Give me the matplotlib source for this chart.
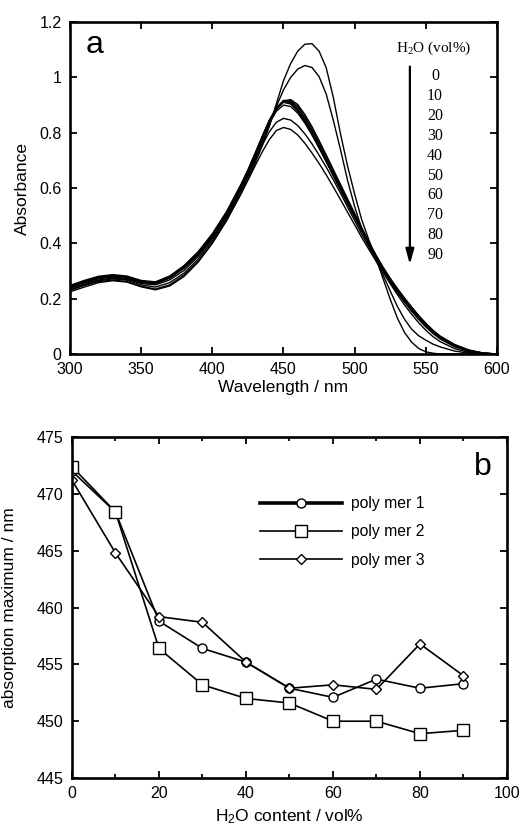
import numpy as np
import matplotlib
matplotlib.use("Agg")
import matplotlib.pyplot as plt
from matplotlib.ticker import MultipleLocator, FuncFormatter

plt.rcParams['font.family'] = ['Liberation Sans', 'DejaVu Sans']
plt.rcParams['mathtext.default'] = 'regular'

# ---- panel a: absorption spectra at different water contents ----
wl = [300, 310, 320, 330, 340, 350, 360, 370, 380, 390, 400, 410, 420,
      425, 430, 435, 440, 445, 450, 455, 460, 465, 470, 475, 480, 485, 490, 495,
      500, 505, 510, 515, 520, 525, 530, 535, 540, 545, 550, 555, 560,
      570, 580, 590, 600]

abs_00 = [.225, .242, .258, .265, .260, .243, .232, .246, .280, .332, .400, .482, .578,
          .632, .690, .752, .822, .905, .988, 1.050, 1.095, 1.120, 1.122, 1.095, 1.035, .928, .797, .680,
          .578, .485, .412, .345, .272, .198, .130, .078, .043, .020, .008, .003, .000,
          0, 0, 0, 0]
abs_10 = [.232, .250, .265, .272, .267, .250, .242, .258, .292, .343, .410, .490, .588,
          .642, .700, .762, .828, .895, .955, 1.000, 1.030, 1.043, 1.036, 1.003, .940, .845, .740, .628,
          .533, .452, .392, .340, .285, .228, .172, .126, .090, .066, .050, .036, .026,
          .011, .003, 0, 0]
abs_20 = [.236, .254, .268, .274, .270, .255, .250, .268, .302, .352, .417, .497, .596,
          .650, .710, .772, .833, .883, .913, .920, .902, .866, .822, .772, .720, .667, .614, .561,
          .509, .457, .405, .355, .307, .264, .226, .191, .158, .127, .099, .075, .055,
          .027, .010, .002, 0]
abs_30 = [.242, .260, .275, .281, .276, .260, .256, .276, .313, .363, .428, .508, .606,
          .660, .720, .783, .843, .890, .917, .917, .895, .858, .813, .764, .712, .660, .607, .555,
          .503, .452, .401, .353, .307, .266, .230, .196, .164, .133, .105, .080, .060,
          .031, .013, .003, 0]
abs_40 = [.240, .258, .272, .278, .273, .258, .254, .274, .310, .360, .425, .505, .603,
          .657, .717, .780, .840, .888, .915, .912, .888, .850, .805, .756, .704, .652, .600, .548,
          .497, .447, .397, .350, .305, .264, .228, .194, .162, .130, .102, .078, .058,
          .030, .012, .003, 0]
abs_50 = [.245, .263, .278, .284, .279, .263, .258, .279, .316, .367, .432, .512, .610,
          .664, .724, .786, .845, .890, .914, .908, .882, .843, .797, .748, .697, .645, .594, .543,
          .493, .444, .395, .349, .305, .265, .230, .197, .165, .134, .106, .081, .061,
          .032, .013, .003, 0]
abs_60 = [.248, .266, .281, .287, .282, .266, .261, .282, .319, .370, .435, .515, .612,
          .666, .725, .786, .843, .886, .910, .904, .878, .840, .795, .746, .696, .645, .595, .545,
          .496, .447, .399, .353, .310, .270, .234, .201, .169, .138, .110, .085, .064,
          .034, .014, .004, 0]
abs_70 = [.244, .262, .277, .283, .278, .262, .257, .277, .314, .365, .430, .510, .607,
          .660, .719, .779, .835, .878, .900, .895, .871, .835, .792, .745, .696, .646, .597, .548,
          .500, .452, .404, .358, .314, .274, .237, .203, .170, .139, .111, .086, .065,
          .035, .015, .004, 0]
abs_80 = [.245, .262, .276, .282, .277, .262, .258, .278, .312, .358, .422, .502, .598,
          .650, .703, .755, .803, .838, .852, .846, .826, .796, .760, .719, .676, .630, .582, .532,
          .482, .433, .387, .342, .300, .260, .223, .188, .155, .125, .098, .075, .056,
          .028, .010, .002, 0]
abs_90 = [.230, .248, .262, .268, .262, .245, .235, .250, .285, .335, .402, .484, .578,
          .628, .680, .730, .775, .808, .819, .812, .792, .762, .727, .689, .648, .604, .559, .513,
          .467, .421, .378, .336, .295, .254, .215, .178, .144, .113, .086, .063, .045,
          .020, .006, .001, 0]

spectra = [abs_00, abs_10, abs_20, abs_30, abs_40, abs_50, abs_60, abs_70, abs_80, abs_90]
water_labels = ['0', '10', '20', '30', '40', '50', '60', '70', '80', '90']

# ---- panel b: absorption maximum vs water content ----
water = [0, 10, 20, 30, 40, 50, 60, 70, 80, 90]
poly1 = [472.0, 468.4, 458.8, 456.4, 455.2, 452.9, 452.1, 453.7, 452.9, 453.3]
poly2 = [472.4, 468.4, 456.4, 453.2, 452.0, 451.6, 450.0, 450.0, 448.9, 449.2]
poly3 = [471.2, 464.8, 459.2, 458.7, 455.2, 452.9, 453.2, 452.8, 456.8, 454.0]

fig = plt.figure(figsize=(5.22, 8.34), dpi=100)
ax1 = fig.add_axes([0.1341, 0.5755, 0.818, 0.398])
ax2 = fig.add_axes([0.1379, 0.0671, 0.8333, 0.4089])

tick_fs = 11.5
label_fs = 12.5


def style_axes(ax):
    for s in ax.spines.values():
        s.set_linewidth(1.9)
    ax.tick_params(which='both', direction='in', top=True, right=True,
                   labelsize=tick_fs, width=1.3)
    ax.tick_params(which='major', length=5, pad=6)
    ax.tick_params(which='minor', length=3)


for spec in spectra:
    ax1.plot(wl, spec, color='black', lw=1.0)

ax1.set_xlim(300, 600)
ax1.set_ylim(0, 1.2)
ax1.xaxis.set_major_locator(MultipleLocator(50))
ax1.yaxis.set_major_locator(MultipleLocator(0.2))
ax1.yaxis.set_major_formatter(FuncFormatter(lambda v, p: f'{v:g}'))
style_axes(ax1)
ax1.set_xlabel('Wavelength / nm', fontsize=label_fs, labelpad=2)
ax1.set_ylabel('Absorbance', fontsize=label_fs, labelpad=7)
ax1.text(0.058, 0.93, 'a', transform=ax1.transAxes, fontsize=23,
         ha='center', va='center')

serif = ['Liberation Serif', 'DejaVu Serif']
ax1.text(0.851, 0.922, 'H$_2$O (vol%)', transform=ax1.transAxes, fontsize=11,
         family=serif, ha='center', va='center')
n = len(water_labels)
for i, lab in enumerate(water_labels):
    yy = 0.837 - i * (0.837 - 0.298) / (n - 1)
    ax1.text(0.855, yy, lab, transform=ax1.transAxes, fontsize=11.5,
             family=serif, ha='center', va='center')
ax1.annotate('', xy=(0.796, 0.27), xytext=(0.796, 0.866),
             xycoords='axes fraction', textcoords='axes fraction',
             arrowprops=dict(arrowstyle='-|>,head_length=0.9,head_width=0.25',
                             color='black', lw=1.6, shrinkA=0, shrinkB=0))

# panel b
ax2.plot(water, poly1, color='black', lw=1.2, marker='o', ms=6.5,
         mfc='white', mec='black', mew=1.0, label='poly mer 1')
ax2.plot(water, poly2, color='black', lw=1.2, marker='s', ms=8.5,
         mfc='white', mec='black', mew=1.0, label='poly mer 2')
ax2.plot(water, poly3, color='black', lw=1.2, marker='D', ms=5.5,
         mfc='white', mec='black', mew=1.0, label='poly mer 3')

ax2.set_xlim(0, 100)
ax2.set_ylim(445, 475)
ax2.xaxis.set_major_locator(MultipleLocator(20))
ax2.xaxis.set_minor_locator(MultipleLocator(10))
ax2.yaxis.set_major_locator(MultipleLocator(5))
style_axes(ax2)
ax2.set_xlabel('H$_2$O content / vol%', fontsize=label_fs, labelpad=4)
ax2.set_ylabel('absorption maximum / nm', fontsize=label_fs, labelpad=14)
ax2.text(0.9455, 0.913, 'b', transform=ax2.transAxes, fontsize=23,
         ha='center', va='center')

leg = ax2.legend(loc='upper left', bbox_to_anchor=(0.432, 0.827), frameon=False,
                 fontsize=11.3, handlelength=5.2, handletextpad=0.6,
                 labelspacing=0.85, borderpad=0, borderaxespad=0)
leg.get_lines()[0].set_linewidth(2.6)

fig.savefig('out.png', dpi=100)
